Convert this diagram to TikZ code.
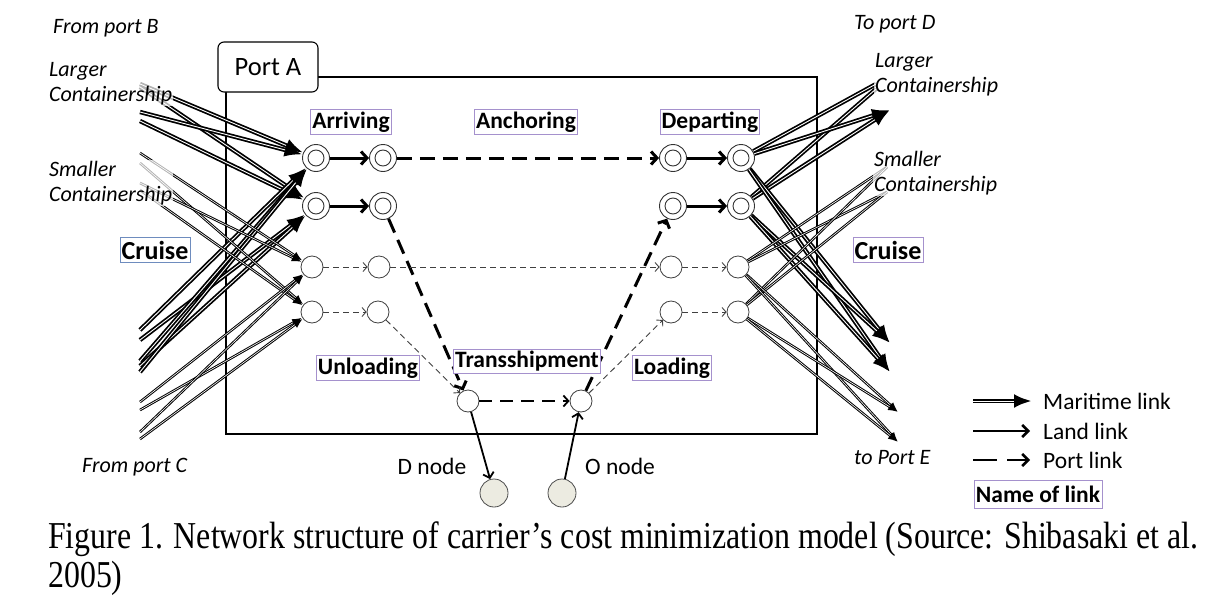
\documentclass[tikz,border=0pt]{standalone}
\usepackage{graphicx}
\usepackage{fontspec}
\setmainfont{Carlito}
\newfontfamily\capfont{Liberation Serif}
\usetikzlibrary{arrows.meta}
\definecolor{linkpurple}{RGB}{165,145,205}
\definecolor{cruiseblue}{RGB}{110,140,190}
\definecolor{odfill}{RGB}{236,235,225}
\begin{document}
\begin{tikzpicture}[x=1pt,y=-1pt,
  dbl/.style={circle, draw=black!80, line width=0.9pt, fill=white, minimum size=27pt, inner sep=0pt,
     path picture={\draw[black!80, line width=0.9pt] (path picture bounding box.center) circle (8pt);}},
  sc/.style={circle, draw=black!75, line width=0.8pt, fill=white, minimum size=22pt, inner sep=0pt},
  od/.style={circle, draw=black!70, line width=0.8pt, fill=odfill, minimum size=28pt, inner sep=0pt},
  mar/.style={draw=black, line width=4.4pt, -{Latex[length=18pt,width=14pt]},
     postaction={draw=white, line width=0.9pt, shorten >=18pt, -}},
  marn/.style={draw=black, double=white, line width=1.7pt, double distance=0.9pt},
  sml/.style={draw=black, line width=2.6pt, -{Latex[length=10pt,width=8pt]},
     postaction={draw=white, line width=0.6pt, shorten >=10pt, -}},
  smln/.style={draw=black, double=white, line width=1pt, double distance=0.6pt},
  portthick/.style={line width=3pt, dash pattern=on 15pt off 8pt, -{Straight Barb[length=6pt,width=13pt]}},
  landthick/.style={line width=3pt, -{Straight Barb[length=6pt,width=13pt]}},
  portthin/.style={draw=black!75, line width=0.9pt, dash pattern=on 6pt off 4pt, -{Straight Barb[length=4pt,width=9pt]}},
  portmid/.style={line width=1.8pt, dash pattern=on 13pt off 8pt, -{Straight Barb[length=5pt,width=11pt]}},
  landlink/.style={line width=1.8pt, -{Straight Barb[length=5pt,width=11pt]}},
  lbl/.style={draw=linkpurple, line width=0.8pt, fill=white, inner xsep=1.5pt, inner ysep=2pt,
     font=\bfseries\fontsize{23.5}{25}\selectfont},
  itl/.style={font=\itshape\fontsize{22}{25}\selectfont, align=left, inner sep=1pt,
     fill=white, fill opacity=0.7, text opacity=1},
  plain/.style={font=\fontsize{23.5}{25}\selectfont, inner sep=0pt}
]
\useasboundingbox (0,0) rectangle (1209,597);

% port box
\draw[line width=1.8pt] (226,77) rectangle (817,434);

% nodes
\node[dbl] (a1) at (316,158) {};
\node[dbl] (a2) at (383,158) {};
\node[dbl] (a3) at (673,158) {};
\node[dbl] (a4) at (741,158) {};
\node[dbl] (b1) at (316,206) {};
\node[dbl] (b2) at (383,206) {};
\node[dbl] (b3) at (673,206) {};
\node[dbl] (b4) at (741,206) {};
\node[sc] (c1) at (312,267) {};
\node[sc] (c2) at (379,267) {};
\node[sc] (c3) at (671,267) {};
\node[sc] (c4) at (738,267) {};
\node[sc] (d1) at (312,312) {};
\node[sc] (d2) at (378,312) {};
\node[sc] (d3) at (671,312) {};
\node[sc] (d4) at (738,312) {};
\node[sc] (t1) at (468,401) {};
\node[sc] (t2) at (581,401) {};
\node[od] (dn) at (494,493) {};
\node[od] (on) at (562,493) {};

% free ends
\coordinate (LA1) at (140,84);
\coordinate (LA2) at (140,87);
\coordinate (LA3) at (140,112);
\coordinate (LA4) at (140,121);
\coordinate (LB1) at (140,330);
\coordinate (LB2) at (140,340);
\coordinate (LB3) at (140,361);
\coordinate (LB4) at (140,366);
\coordinate (LB5) at (140,372);
\coordinate (LC1) at (140,153);
\coordinate (LC2) at (140,163);
\coordinate (LC3) at (140,183);
\coordinate (LC4) at (140,190);
\coordinate (LD1) at (140,402);
\coordinate (LD2) at (140,410);
\coordinate (LD3) at (140,432);
\coordinate (LD4) at (140,439);
\coordinate (RA1) at (876,84);
\coordinate (RA2) at (876,89);
\coordinate (RA3) at (890,110);
\coordinate (RB1) at (890,343);
\coordinate (RB2) at (890,372);
\coordinate (RC1) at (887,167);
\coordinate (RC2) at (887,192);
\coordinate (RD1) at (898,412);
\coordinate (RD2) at (898,442);

% maritime links, left
\draw[mar] (LA1) -- (a1);
\draw[mar] (LA2) -- (b1);
\draw[mar] (LA3) -- (a1);
\draw[mar] (LA4) -- (b1);
\draw[mar] (LB1) -- (a1);
\draw[mar] (LB2) -- (b1);
\draw[mar] (LB3) -- (a1);
\draw[mar] (LB4) -- (b1);
\draw[mar] (LB5) -- (a1);
\draw[sml] (LC1) -- (c1);
\draw[sml] (LC2) -- (d1);
\draw[sml] (LC3) -- (c1);
\draw[sml] (LC4) -- (d1);
\draw[sml] (LD1) -- (c1);
\draw[sml] (LD2) -- (d1);
\draw[sml] (LD3) -- (c1);
\draw[sml] (LD4) -- (d1);

% maritime links, right
\draw[marn] (a4) -- (RA1);
\draw[marn] (b4) -- (RA2);
\draw[mar] (a4) -- (RA3);
\draw[mar] (b4) -- (RA3);
\draw[mar] (a4) -- (RB1);
\draw[mar] (a4) -- (RB2);
\draw[mar] (b4) -- (RB1);
\draw[mar] (b4) -- (RB2);
\draw[smln] (c4) -- (RC1);
\draw[smln] (c4) -- (RC2);
\draw[smln] (d4) -- (RC1);
\draw[smln] (d4) -- (RC2);
\draw[sml] (c4) -- (RD1);
\draw[sml] (c4) -- (RD2);
\draw[sml] (d4) -- (RD1);
\draw[sml] (d4) -- (RD2);

% port links
\draw[landthick] (a1) -- (a2);
\draw[portthick] (a2) -- (a3);
\draw[landthick] (a3) -- (a4);
\draw[landthick] (b1) -- (b2);
\draw[portthick] (b2) -- (t1);
\draw[portthick] (t2) -- (b3);
\draw[landthick] (b3) -- (b4);
\draw[portthin] (c1) -- (c2);
\draw[portthin] (c2) -- (c3);
\draw[portthin] (c3) -- (c4);
\draw[portthin] (d1) -- (d2);
\draw[portthin] (d2) -- (t1);
\draw[portthin] (t2) -- (d3);
\draw[portthin] (d3) -- (d4);
\draw[portmid] (t1) -- (t2);
\draw[landlink] (t1) -- (dn);
\draw[landlink] (on) -- (t2);

% Port A label
\node[draw, line width=1.1pt, rounded corners=6pt, fill=white, minimum width=100pt, minimum height=50pt,
      font=\fontsize{26.5}{28}\selectfont] (portA) at (268,67) {Port A};

% link names
\node[lbl] (arr) at (351,122) {Arriving};
\node[lbl] (anc) at (526,122) {Anchoring};
\node[lbl] (dep) at (710,122) {Departing};
\node[lbl] (unl) at (368,368) {Unloading};
\node[lbl] (trs) at (527,361) {Transshipment};
\node[lbl] (lod) at (672,368) {Loading};
\node[lbl, draw=cruiseblue, font=\bfseries\fontsize{26}{28}\selectfont, inner ysep=3pt] (cruL) at (155,250) {Cruise};
\node[lbl, font=\bfseries\fontsize{26}{28}\selectfont, inner ysep=3pt] (cruR) at (888,250) {Cruise};

% port texts
\node[itl, anchor=west, fill opacity=0] (fromB) at (52,28) {From port B};
\node[itl, anchor=west] (largeL) at (48,84) {Larger\\Containership};
\node[itl, anchor=west] (smallL) at (48,183) {Smaller\\Containership};
\node[itl, anchor=west, fill opacity=0] (fromC) at (81,467) {From port C};
\node[itl, anchor=west, fill opacity=0] (toD) at (853,24) {To port D};
\node[itl, anchor=west] (largeR) at (874,75) {Larger\\Containership};
\node[itl, anchor=west] (smallR) at (873,173) {Smaller\\Containership};
\node[itl, anchor=west, fill opacity=0] (toE) at (853,458) {to Port E};

\node[plain] (dlab) at (432,466) {D node};
\node[plain] (olab) at (620,466) {O node};

% legend
\coordinate (lm1) at (973,401);
\coordinate (lm2) at (1032,401);
\coordinate (ll1) at (973,431);
\coordinate (ll2) at (1030,431);
\coordinate (lp1) at (973,460);
\coordinate (lp2) at (1030,460);
\draw[mar] (lm1) -- (lm2);
\draw[line width=2.6pt, -{Straight Barb[length=6pt,width=12pt]}] (ll1) -- (ll2);
\draw[line width=2.6pt, dash pattern=on 24pt off 10pt, -{Straight Barb[length=6pt,width=12pt]}] (lp1) -- (lp2);
\node[plain, anchor=west] (tm) at (1043,401) {Maritime link};
\node[plain, anchor=west] (tl) at (1043,431) {Land link};
\node[plain, anchor=west] (tp) at (1043,460) {Port link};
\node[lbl, minimum width=128pt, minimum height=28pt] (nol) at (1038,494) {Name of link};

% caption
\node[anchor=north west, inner sep=0pt] (cap) at (48,521)
  {\resizebox{1150pt}{\height}{\capfont\fontsize{38}{39}\selectfont
   \begin{tabular}[t]{@{}l@{}}Figure 1. Network structure of carrier’s cost minimization model (Source: Shibasaki et al.\\2005)\end{tabular}}};
\end{tikzpicture}
\end{document}
